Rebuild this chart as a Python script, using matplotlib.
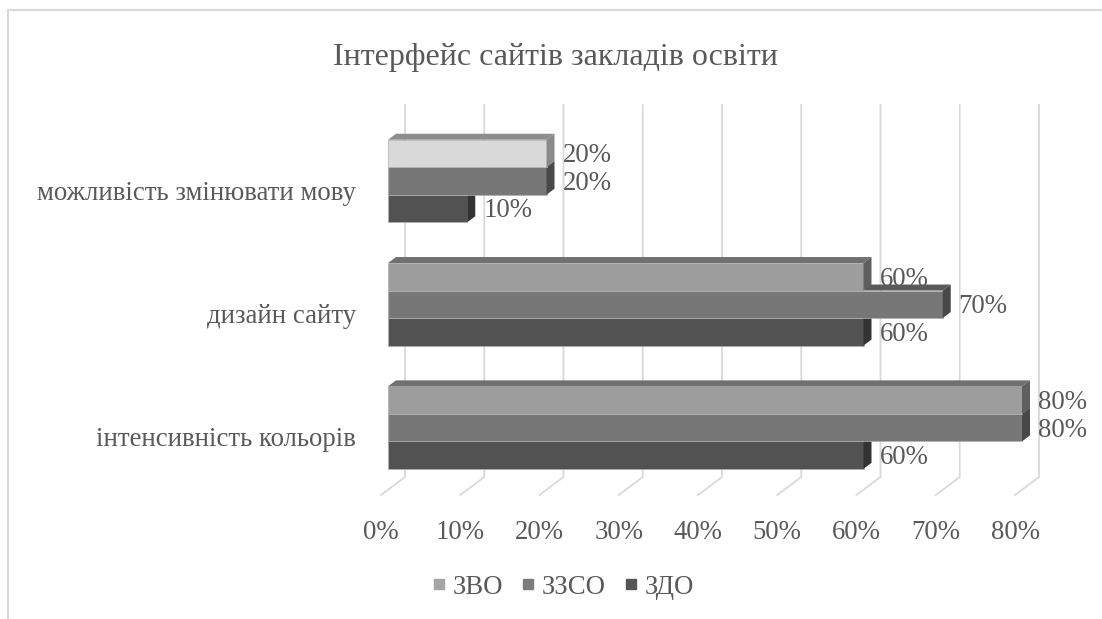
"""
3D-style horizontal bar chart: interface of educational institutions' websites.
"""
import matplotlib
matplotlib.use("Agg")
import matplotlib.pyplot as plt
import matplotlib.transforms as mtransforms
from matplotlib.patches import Polygon, Rectangle
from matplotlib.lines import Line2D

# Data (top to bottom as shown on the chart)
categories = ["можливість змінювати мову", "дизайн сайту", "інтенсивність кольорів"]
series_names = ["ЗВО", "ЗЗСО", "ЗДО"]
zvo = [20, 60, 80]
zzso = [20, 70, 80]
zdo = [10, 60, 60]
x_ticks = [0, 10, 20, 30, 40, 50, 60, 70, 80]
title = "Інтерфейс сайтів закладів освіти"

# Styling
plt.rcParams["font.family"] = ["Liberation Serif", "DejaVu Serif"]
TEXT = "#595959"
GRID = "#d9d9d9"
FS = 19.3
# (front, top, side) per series; ЗВО first category is lighter in the original
face_colors = {
    "ЗВО": [("#d9d9d9", "#8e8e8e", "#8a8a8a"),
            ("#9d9d9d", "#707070", "#5f5f5f"),
            ("#9d9d9d", "#707070", "#5f5f5f")],
    "ЗЗСО": [("#777777", "#5a5a5a", "#484848")] * 3,
    "ЗДО": [("#525252", "#3c3c3c", "#333333")] * 3,
}
legend_colors = ["#a6a6a6", "#7c7c7c", "#555555"]

W, H, DPI = 1102, 619, 100
fig = plt.figure(figsize=(W / DPI, H / DPI), dpi=DPI)

# axes placed in pixel terms: x=0 at px 388, top px 100, bottom px 495
ax_left, ax_right, ax_top, ax_bottom = 388, 1060, 100, 495
ax = fig.add_axes([ax_left / W, 1 - ax_bottom / H,
                   (ax_right - ax_left) / W, (ax_bottom - ax_top) / H])

px_per_x = 7.925        # pixels per percent
px_per_y = 123.3        # pixels per category step
ax.set_xlim(0, (ax_right - ax_left) / px_per_x)
ax.set_ylim((ax_bottom - 181) / px_per_y, (ax_top - 181) / px_per_y)

bar_h = 27.5 / px_per_y
dx, dy = 8 / px_per_x, -6 / px_per_y   # 3D depth of the bars

# back wall grid + floor diagonals
gx_back = 17 / px_per_x
gy_top = (105 - 181) / px_per_y
gy_floor = (477 - 181) / px_per_y
gx_front = -7 / px_per_x
y_front = ax.get_ylim()[0]
for t in x_ticks:
    ax.plot([t + gx_back, t + gx_back, t + gx_front],
            [gy_top, gy_floor, y_front], color=GRID, lw=1.3, zorder=0,
            clip_on=False, solid_joinstyle="miter")

values = {"ЗВО": zvo, "ЗЗСО": zzso, "ЗДО": zdo}
offsets = {"ЗВО": -1, "ЗЗСО": 0, "ЗДО": 1}

z = 2
for ci in range(len(categories)):
    # draw lower bars first so upper ones cover their top faces
    for name in ["ЗДО", "ЗЗСО", "ЗВО"]:
        v = values[name][ci]
        yc = ci + offsets[name] * bar_h
        front, top, side = face_colors[name][ci]
        ytop, ybot = yc - bar_h / 2, yc + bar_h / 2
        ax.barh(yc, v, height=bar_h, color=front, edgecolor="#b0b0b0",
                linewidth=0.5, zorder=z)
        ax.add_patch(Polygon([(0, ytop), (v, ytop), (v + dx, ytop + dy), (dx, ytop + dy)],
                             closed=True, fc=top, ec="none", zorder=z + 0.1))
        ax.add_patch(Polygon([(v, ytop), (v, ybot), (v + dx, ybot + dy), (v + dx, ytop + dy)],
                             closed=True, fc=side, ec="none", zorder=z + 0.1))
        ax.text(v + dx + 1.0, yc + 0.02, f"{v}%", ha="left", va="center",
                fontsize=FS, color=TEXT, zorder=1.5, clip_on=False)
        z += 1

# axis labels
ax.set_yticks(range(len(categories)))
ax.set_yticklabels(categories, fontsize=FS, color=TEXT)
ax.tick_params(axis="y", length=0, pad=23)
shift_down = mtransforms.ScaledTranslation(0, -9 / DPI, fig.dpi_scale_trans)
for lab in ax.get_yticklabels():
    lab.set_transform(lab.get_transform() + shift_down)

ax.set_xticks(x_ticks)
ax.set_xticklabels([f"{t}%" for t in x_ticks], fontsize=FS, color=TEXT)
ax.tick_params(axis="x", length=0, pad=18)
shift_left = mtransforms.ScaledTranslation(-7 / DPI, 0, fig.dpi_scale_trans)
for lab in ax.get_xticklabels():
    lab.set_transform(lab.get_transform() + shift_left)

for s in ax.spines.values():
    s.set_visible(False)
ax.patch.set_visible(False)

fig.text(555 / W, 1 - 57 / H, title, ha="center", va="center",
         fontsize=23, color=TEXT)

handles = [Line2D([], [], marker="s", ls="", color=c, markersize=7.5) for c in legend_colors]
fig.legend(handles, series_names, loc="center", bbox_to_anchor=(561 / W, 1 - 587 / H),
           ncol=3, frameon=False, fontsize=FS, handletextpad=0.1,
           columnspacing=0.55, handlelength=0.8, labelcolor=TEXT)

# chart frame
fig.patches.append(Rectangle((8 / W, -0.1), 1.2, 1.1 - 10 / H, transform=fig.transFigure,
                             fill=False, ec=GRID, lw=1.5))

fig.savefig("out.png", dpi=DPI, facecolor="white")
